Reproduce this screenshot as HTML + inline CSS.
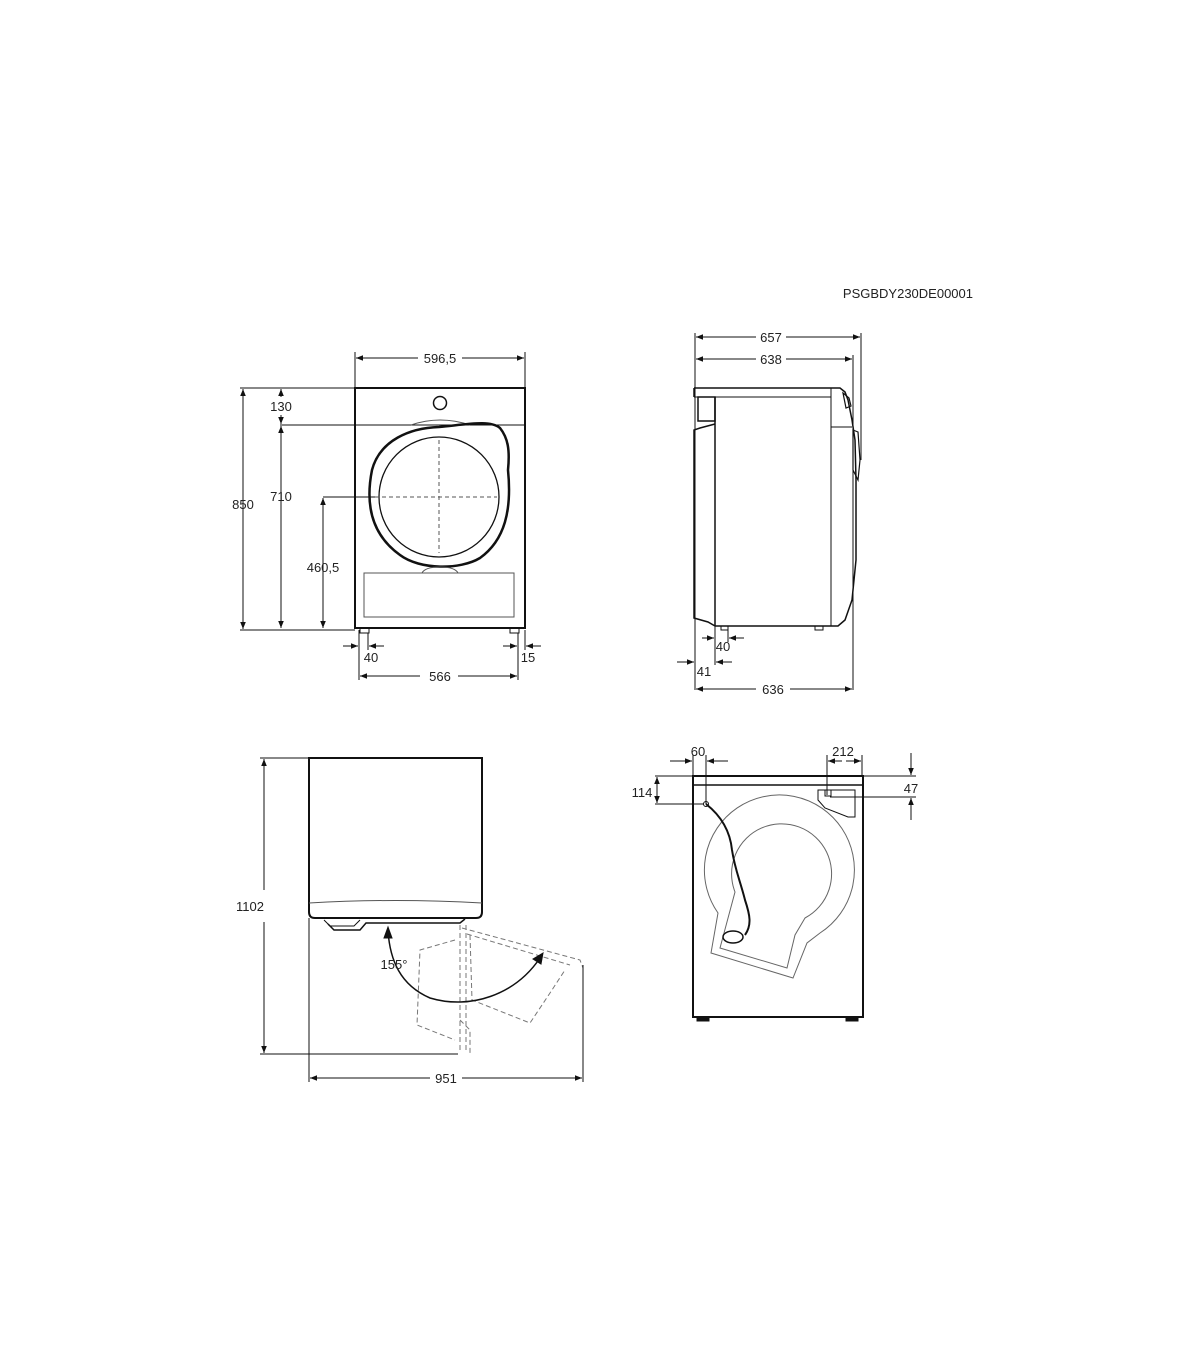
<!DOCTYPE html>
<html><head><meta charset="utf-8"><style>
html,body{margin:0;padding:0;background:#fff}
svg{display:block}
text{font-family:"Liberation Sans",Arial,sans-serif;font-size:13px;fill:#222}
</style></head><body>
<svg width="1200" height="1372" viewBox="0 0 1200 1372" xmlns="http://www.w3.org/2000/svg">
<defs>
<marker id="a" viewBox="0 0 10 10" refX="10" refY="5" markerWidth="9" markerHeight="7" orient="auto-start-reverse" markerUnits="userSpaceOnUse"><path d="M0,1 L10,5 L0,9 Z" fill="#111"/></marker>
</defs>
<text x="973" y="298" text-anchor="end" style="font-size:13px">PSGBDY230DE00001</text>

<!-- FRONT VIEW -->
<g stroke="#111" fill="none">
<rect x="355" y="388" width="170" height="240" stroke-width="2"/>
<line x1="355" y1="425" x2="525" y2="425" stroke-width="1"/>
<circle cx="440" cy="403" r="6.5" stroke-width="1.5"/>
<path d="M411,425 Q440,415 470,425" stroke-width="1" stroke="#555"/>
<path d="M439,427 C470,424 490,420 500,428 C508,438 510,450 508,470 C512,510 505,540 480,558 C460,570 420,570 400,555 C372,535 365,505 372,470 C380,440 410,428 439,427 Z" stroke-width="2.5"/>
<circle cx="439" cy="497" r="60" stroke-width="1.3"/>
<line x1="439" y1="440" x2="439" y2="553" stroke-dasharray="4,3" stroke-width="1" stroke="#555"/>
<line x1="375" y1="497" x2="497" y2="497" stroke-dasharray="4,3" stroke-width="1" stroke="#555"/>
<rect x="364" y="573" width="150" height="44" stroke-width="1" stroke="#555"/>
<path d="M422,573 Q425,567 440,567 Q455,567 458,573" stroke-width="1" stroke="#555"/>
<rect x="360" y="628" width="9" height="5" stroke-width="1"/>
<rect x="510" y="628" width="9" height="5" stroke-width="1"/>
<g stroke-width="1">
<line x1="355" y1="352" x2="355" y2="388"/><line x1="525" y1="352" x2="525" y2="388"/>
<line x1="356" y1="358" x2="418" y2="358" marker-start="url(#a)"/><line x1="462" y1="358" x2="524" y2="358" marker-end="url(#a)"/>
<line x1="240" y1="388" x2="355" y2="388"/><line x1="240" y1="630" x2="355" y2="630"/>
<line x1="243" y1="389" x2="243" y2="629" marker-start="url(#a)" marker-end="url(#a)"/>
<line x1="281" y1="389" x2="281" y2="397" marker-start="url(#a)"/><line x1="281" y1="415" x2="281" y2="424" marker-end="url(#a)"/>
<line x1="280" y1="425" x2="355" y2="425"/>
<line x1="281" y1="426" x2="281" y2="628" marker-start="url(#a)" marker-end="url(#a)"/>
<line x1="323" y1="497" x2="375" y2="497"/>
<line x1="323" y1="498" x2="323" y2="628" marker-start="url(#a)" marker-end="url(#a)"/>
<line x1="359" y1="630" x2="359" y2="680"/><line x1="368" y1="633" x2="368" y2="650"/>
<line x1="343" y1="646" x2="358" y2="646" marker-end="url(#a)"/><line x1="384" y1="646" x2="369" y2="646" marker-end="url(#a)"/>
<line x1="518" y1="633" x2="518" y2="680"/><line x1="525" y1="630" x2="525" y2="650"/>
<line x1="503" y1="646" x2="517" y2="646" marker-end="url(#a)"/><line x1="541" y1="646" x2="526" y2="646" marker-end="url(#a)"/>
<line x1="360" y1="676" x2="420" y2="676" marker-start="url(#a)"/><line x1="458" y1="676" x2="517" y2="676" marker-end="url(#a)"/>
</g>
</g>
<text x="440" y="363" text-anchor="middle">596,5</text>
<text x="281" y="411" text-anchor="middle">130</text>
<text x="243" y="509" text-anchor="middle">850</text>
<text x="281" y="501" text-anchor="middle">710</text>
<text x="323" y="572" text-anchor="middle">460,5</text>
<text x="371" y="662" text-anchor="middle">40</text>
<text x="528" y="662" text-anchor="middle">15</text>
<text x="440" y="681" text-anchor="middle">566</text>

<!-- SIDE VIEW -->
<g stroke="#111" fill="none">
<path d="M694,388 L840,388 L845,392 L848,400 L852,420 L855,440 L856,480 L856,560 L852,600 L845,620 L838,626 L715,626" stroke-width="1.5"/>
<line x1="694" y1="388" x2="694" y2="397" stroke-width="1.5"/>
<line x1="694" y1="397" x2="831" y2="397" stroke-width="1"/>
<line x1="715" y1="397" x2="715" y2="626" stroke-width="1.5"/>
<line x1="831" y1="388" x2="831" y2="626" stroke-width="1"/>
<line x1="831" y1="427" x2="852" y2="427" stroke-width="1"/>
<rect x="698" y="397" width="17" height="24" stroke-width="1.5"/>
<path d="M715,424 L700,428 L694,430 L694,618 L708,622 L715,626" stroke-width="1.5"/>
<path d="M843,393 L849,398 L851,406 L846,408 Z" stroke-width="1.2"/>
<path d="M853,430 L858,432 L860,460 L858,480 L853,470 Z" stroke-width="1.2"/>
<rect x="721" y="626" width="7" height="4" stroke-width="1"/>
<rect x="815" y="626" width="8" height="4" stroke-width="1"/>
<g stroke-width="1">
<line x1="695" y1="333" x2="695" y2="690"/><line x1="861" y1="333" x2="861" y2="460"/><line x1="853" y1="355" x2="853" y2="690"/>
<line x1="696" y1="337" x2="756" y2="337" marker-start="url(#a)"/><line x1="786" y1="337" x2="860" y2="337" marker-end="url(#a)"/>
<line x1="696" y1="359" x2="756" y2="359" marker-start="url(#a)"/><line x1="786" y1="359" x2="852" y2="359" marker-end="url(#a)"/>
<line x1="715" y1="626" x2="715" y2="665"/><line x1="728" y1="630" x2="728" y2="642"/>
<line x1="702" y1="638" x2="714" y2="638" marker-end="url(#a)"/><line x1="744" y1="638" x2="729" y2="638" marker-end="url(#a)"/>
<line x1="677" y1="662" x2="694" y2="662" marker-end="url(#a)"/><line x1="732" y1="662" x2="716" y2="662" marker-end="url(#a)"/>
<line x1="696" y1="689" x2="756" y2="689" marker-start="url(#a)"/><line x1="790" y1="689" x2="852" y2="689" marker-end="url(#a)"/>
</g>
</g>
<text x="771" y="342" text-anchor="middle">657</text>
<text x="771" y="364" text-anchor="middle">638</text>
<text x="723" y="651" text-anchor="middle">40</text>
<text x="704" y="676" text-anchor="middle">41</text>
<text x="773" y="694" text-anchor="middle">636</text>

<!-- TOP VIEW -->
<g stroke="#111" fill="none">
<path d="M309,758 L482,758 L482,912 Q482,918 476,918 L315,918 Q309,918 309,912 Z" stroke-width="2"/>
<path d="M309,903 Q395,898 482,903" stroke-width="1" stroke="#555"/>
<path d="M324,920 L330,926 L354,926 L360,920" stroke-width="1"/>
<path d="M328,924 L334,930 L360,930 L366,923 L460,923 L465,919" stroke-width="1.5"/>
<g stroke="#777" stroke-dasharray="5,3" stroke-width="1">
<path d="M460,925 L460,1052"/><path d="M466,925 L466,1052"/>
<path d="M462,928 L580,960 L583,968"/>
<path d="M467,934 L570,965"/>
<path d="M455,940 L420,950 L417,1025 L455,1040"/>
<path d="M470,935 L472,1000 L530,1023 L550,993 L565,970"/>
<path d="M460,1020 L470,1030 L470,1055"/>
</g>
<path d="M388,931 C390,960 400,985 430,998 C470,1010 515,995 540,958" stroke-width="1.5"/>
<path d="M388,927 L384,938 L392,938 Z" fill="#111"/>
<path d="M543,953 L533,959 L541,964 Z" fill="#111"/>
<g stroke-width="1">
<line x1="260" y1="758" x2="309" y2="758"/><line x1="260" y1="1054" x2="458" y2="1054"/>
<line x1="264" y1="759" x2="264" y2="890" marker-start="url(#a)"/><line x1="264" y1="922" x2="264" y2="1053" marker-end="url(#a)"/>
<line x1="309" y1="918" x2="309" y2="1082"/><line x1="583" y1="965" x2="583" y2="1082"/>
<line x1="310" y1="1078" x2="430" y2="1078" marker-start="url(#a)"/><line x1="462" y1="1078" x2="582" y2="1078" marker-end="url(#a)"/>
</g>
</g>
<text x="264" y="911" text-anchor="end">1102</text>
<text x="394" y="969" text-anchor="middle">155°</text>
<text x="446" y="1083" text-anchor="middle">951</text>

<!-- REAR VIEW -->
<g stroke="#111" fill="none">
<rect x="693" y="776" width="170" height="241" stroke-width="2"/>
<line x1="693" y1="785" x2="863" y2="785" stroke-width="1.5"/>
<rect x="697" y="1017" width="12" height="4" fill="#111" stroke-width="1"/>
<rect x="846" y="1017" width="12" height="4" fill="#111" stroke-width="1"/>
<path d="M818,790 L855,790 L855,817 L848,817 L825,808 L818,800 Z" stroke-width="1"/>
<rect x="825" y="790" width="6" height="6" stroke-width="1"/>
<g stroke="#666" stroke-width="1">
<path d="M718,913 A75,75 0 1 1 820,933 L807,943 L793,978 L711,953 Z"/>
<path d="M735,892 A50,50 0 1 1 805,918 L795,935 L787,968 L720,948 Z"/>
</g>
<path d="M706,804 C720,815 730,830 732,850 C735,870 740,880 745,900 C750,915 752,925 745,935" stroke-width="2"/>
<ellipse cx="733" cy="937" rx="10" ry="6" stroke-width="1.5"/>
<circle cx="706" cy="804" r="2.5" stroke-width="1"/>
<g stroke-width="1">
<line x1="693" y1="755" x2="693" y2="776"/><line x1="706" y1="755" x2="706" y2="804"/>
<line x1="670" y1="761" x2="692" y2="761" marker-end="url(#a)"/><line x1="728" y1="761" x2="707" y2="761" marker-end="url(#a)"/>
<line x1="655" y1="776" x2="693" y2="776"/><line x1="655" y1="804" x2="704" y2="804"/>
<line x1="657" y1="777" x2="657" y2="803" marker-start="url(#a)" marker-end="url(#a)"/>
<line x1="827" y1="755" x2="827" y2="795"/><line x1="862" y1="755" x2="862" y2="776"/>
<line x1="828" y1="761" x2="842" y2="761" marker-start="url(#a)"/><line x1="846" y1="761" x2="861" y2="761" marker-end="url(#a)"/>
<line x1="863" y1="776" x2="916" y2="776"/><line x1="830" y1="797" x2="916" y2="797"/>
<line x1="911" y1="753" x2="911" y2="775" marker-end="url(#a)"/><line x1="911" y1="820" x2="911" y2="798" marker-end="url(#a)"/>
</g>
</g>
<text x="698" y="756" text-anchor="middle">60</text>
<text x="843" y="756" text-anchor="middle">212</text>
<text x="642" y="797" text-anchor="middle">114</text>
<text x="911" y="793" text-anchor="middle">47</text>
</svg>
</body></html>
